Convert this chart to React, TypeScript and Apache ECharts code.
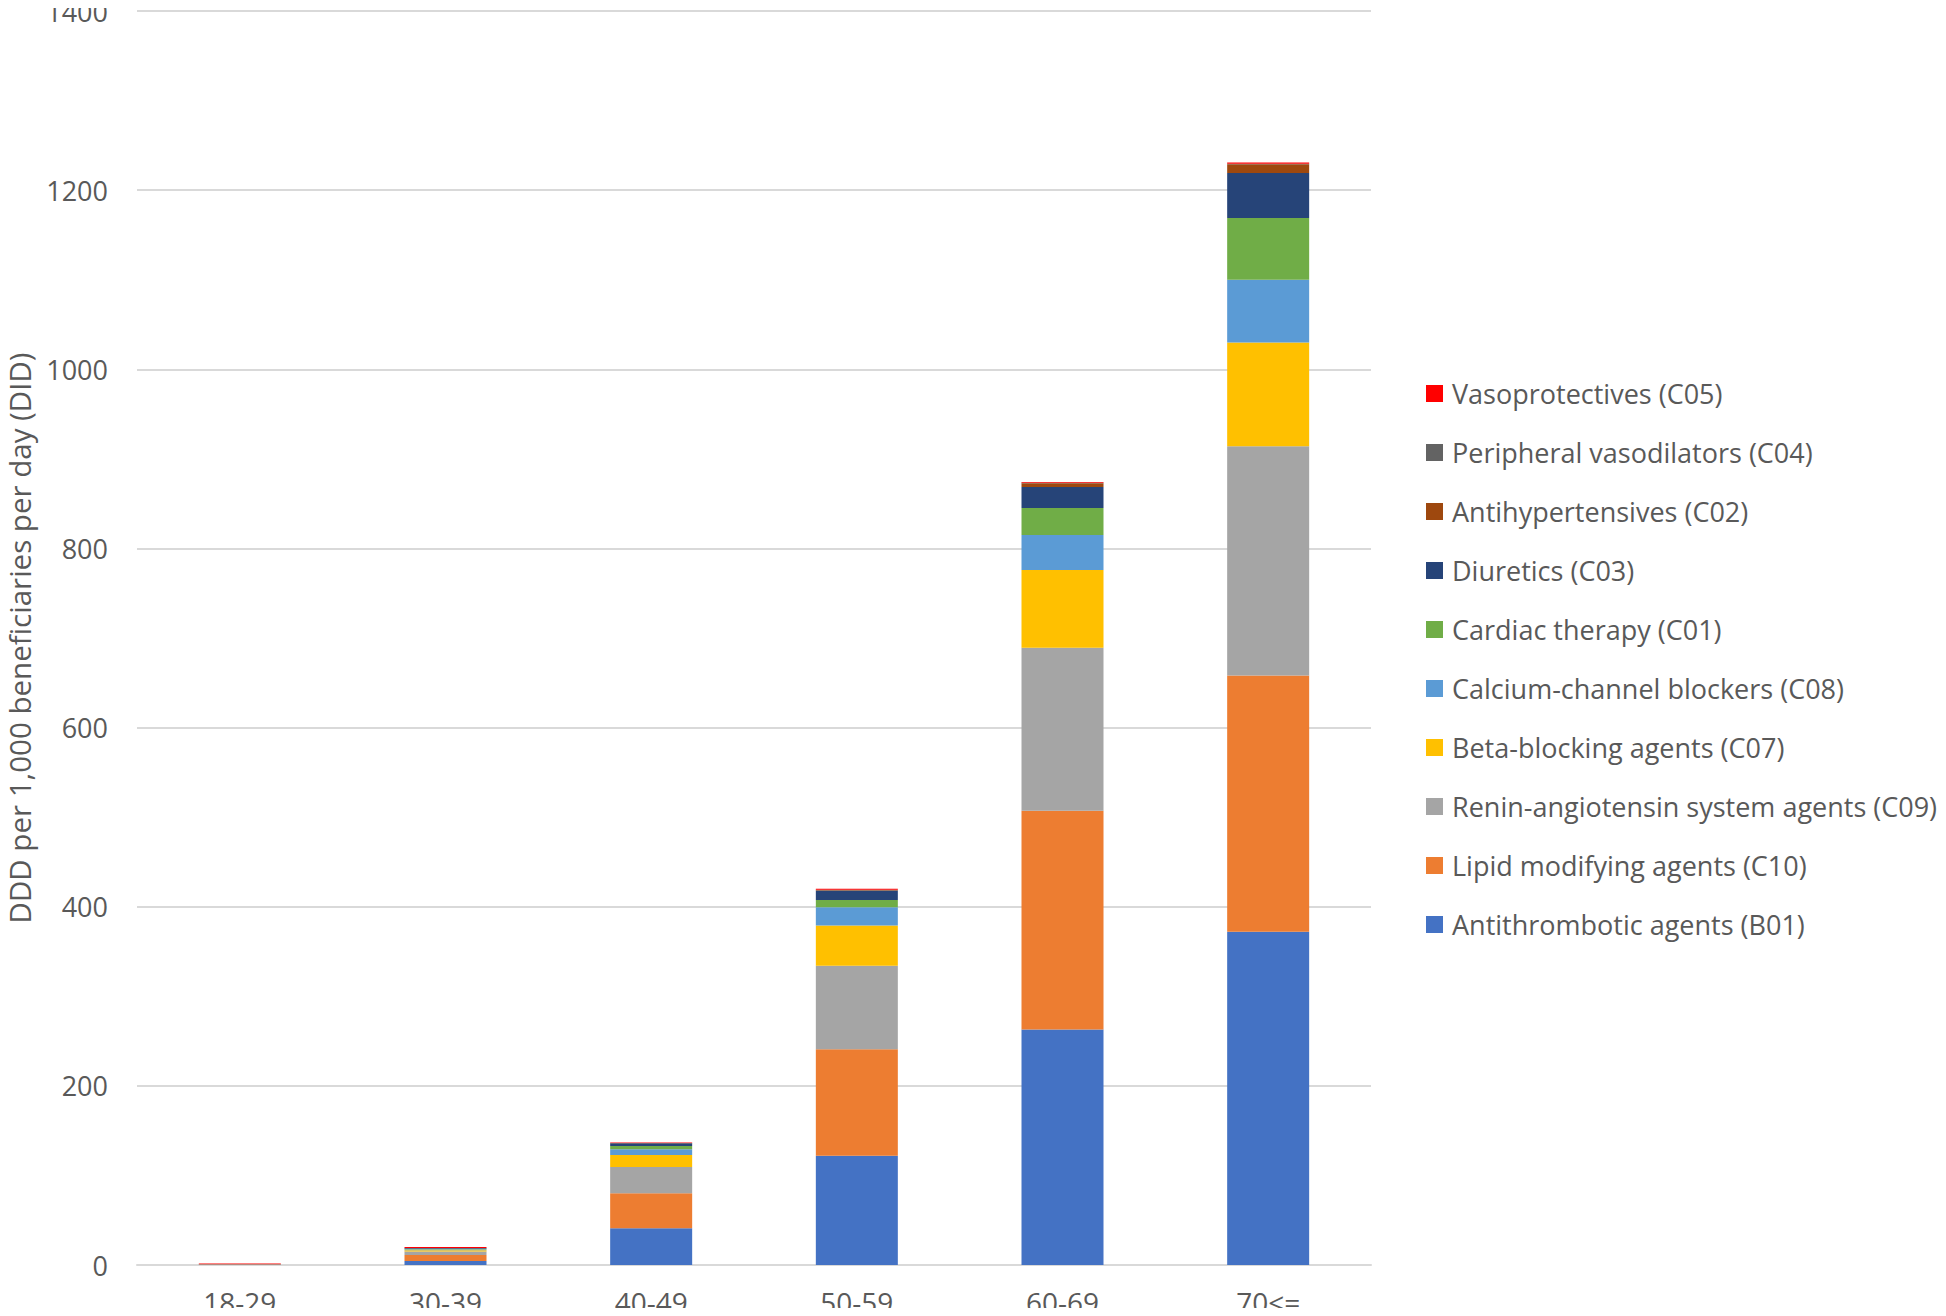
import React, { useEffect, useRef } from "react";
import * as echarts from "echarts";

const categories = ["18-29", "30-39", "40-49", "50-59", "60-69", "70<="];

const seriesNames = [
  "Antithrombotic agents (B01)",
  "Lipid modifying agents (C10)",
  "Renin-angiotensin system agents (C09)",
  "Beta-blocking agents (C07)",
  "Calcium-channel blockers (C08)",
  "Cardiac therapy (C01)",
  "Diuretics (C03)",
  "Antihypertensives (C02)",
  "Peripheral vasodilators (C04)",
  "Vasoprotectives (C05)",
];

const seriesColors = [
  "#4472C4",
  "#ED7D31",
  "#A5A5A5",
  "#FFC000",
  "#5B9BD5",
  "#70AD47",
  "#264478",
  "#9E480E",
  "#636363",
  "#FF0000",
];

const antithrombotic = [0.3, 4.5, 41, 122, 263, 372];
const lipid = [0.1, 6.7, 39, 119, 244, 286];
const renin = [0.1, 3.8, 29.4, 93, 182, 256];
const beta = [0.1, 1.6, 13.4, 45, 87, 116];
const calcium = [0.05, 0.8, 6.4, 20.5, 39, 70];
const cardiac = [0.05, 0.6, 3.7, 8, 30, 69];
const diuretics = [0.05, 0.6, 3, 10.5, 23.5, 50];
const antihypertensives = [0.01, 0.2, 0.3, 0.6, 4.4, 10];
const peripheral = [0.01, 0.1, 0.1, 0.3, 0.3, 0.5];
const vasoprotectives = [0.8, 1.1, 0.4, 1.2, 1.1, 1.5];

const seriesValues = [
  antithrombotic,
  lipid,
  renin,
  beta,
  calcium,
  cardiac,
  diuretics,
  antihypertensives,
  peripheral,
  vasoprotectives,
];

const yTicks = { min: 0, max: 1400, interval: 200 };
const yAxisTitle = "DDD per 1,000 beneficiaries per day (DID)";

export default function App() {
  const ref = useRef<HTMLDivElement>(null);
  useEffect(() => {
    if (!ref.current) return;
    const chart = echarts.init(ref.current, undefined, { renderer: "svg" });
    const textColor = "#595959";
    const font = "'Open Sans', 'Noto Sans', sans-serif";
    chart.setOption({
      animation: false,
      backgroundColor: "#ffffff",
      grid: {
        left: 137,
        right: 575,
        top: 11,
        bottom: 51,
        containLabel: false,
        outerBoundsMode: "none",
      },
      legend: {
        orient: "vertical",
        left: 1421,
        top: 375,
        itemWidth: 17,
        itemHeight: 17,
        itemGap: 32,
        icon: "rect",
        data: [...seriesNames].reverse(),
        textStyle: {
          color: textColor,
          fontSize: 27,
          lineHeight: 24,
          fontFamily: font,
          padding: [0, 0, 0, 4],
        },
      },
      xAxis: {
        type: "category",
        data: categories,
        axisLine: { lineStyle: { color: "#D9D9D9", width: 2 } },
        axisTick: { show: false },
        axisLabel: {
          color: textColor,
          fontSize: 28,
          fontFamily: font,
          margin: 23,
        },
      },
      yAxis: {
        type: "value",
        min: yTicks.min,
        max: yTicks.max,
        interval: yTicks.interval,
        name: yAxisTitle,
        nameLocation: "middle",
        nameGap: 103,
        nameRotate: 90,
        nameTextStyle: {
          color: textColor,
          fontSize: 29.5,
          fontFamily: font,
        },
        axisLine: { show: false },
        axisTick: { show: false },
        splitLine: { lineStyle: { color: "#D9D9D9", width: 2 } },
        axisLabel: {
          color: textColor,
          fontSize: 27,
          fontFamily: font,
          margin: 29,
          formatter: (v: number) => String(v),
        },
      },
      series: seriesNames.map((name, i) => ({
        name,
        type: "bar",
        stack: "total",
        barWidth: 82,
        data: seriesValues[i],
        itemStyle: { color: seriesColors[i] },
        emphasis: { disabled: true },
      })),
    });
    return () => chart.dispose();
  }, []);
  return <div ref={ref} style={{ width: 1946, height: 1316, margin: -8 }} />;
}
